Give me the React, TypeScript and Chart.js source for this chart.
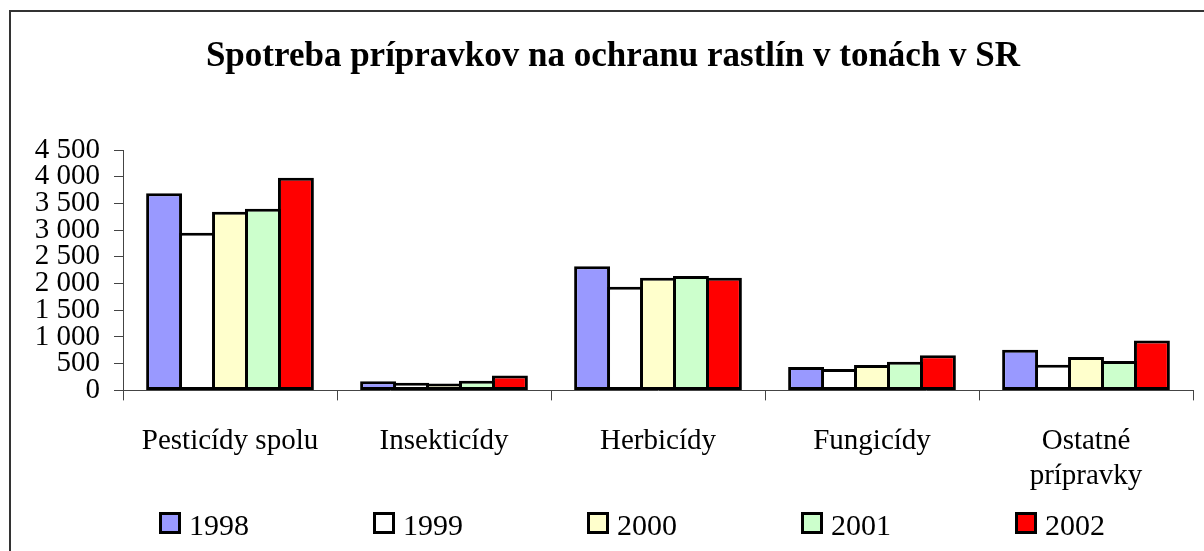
import React, { useEffect, useRef } from 'react';
import { Chart, registerables } from 'chart.js';

Chart.register(...registerables);

const categories: (string | string[])[] = [
  'Pesticídy spolu',
  'Insekticídy',
  'Herbicídy',
  'Fungicídy',
  ['Ostatné', 'prípravky'],
];

const years = ['1998', '1999', '2000', '2001', '2002'];

const values1998 = [3690, 170, 2325, 440, 760];
const values1999 = [2950, 145, 1940, 400, 480];
const values2000 = [3345, 130, 2110, 475, 625];
const values2001 = [3400, 180, 2140, 535, 550];
const values2002 = [3980, 280, 2110, 660, 935];

const yTickLabels = ['0', '500', '1 000', '1 500', '2 000', '2 500', '3 000', '3 500', '4 000', '4 500'];

const seriesColors = ['#9999FF', '#FFFFFF', '#FFFFCC', '#CCFFCC', '#FF0000'];

const titleText = 'Spotreba prípravkov na ochranu rastlín v tonách v SR';

const SERIF = '"Liberation Serif", "Times New Roman", serif';

const framePlugin = {
  id: 'frame',
  afterDraw(chart: any) {
    const ctx = chart.ctx;
    ctx.save();
    ctx.strokeStyle = '#333';
    ctx.lineWidth = 2;
    ctx.beginPath();
    ctx.moveTo(10, chart.height);
    ctx.lineTo(10, 11);
    ctx.lineTo(chart.width, 11);
    ctx.stroke();
    // title
    ctx.fillStyle = '#000';
    ctx.font = 'bold 35px ' + SERIF;
    ctx.textAlign = 'center';
    ctx.textBaseline = 'middle';
    ctx.fillText(titleText, 613, 57);
    ctx.restore();
  },
};

const legendPlugin = {
  id: 'customLegend',
  afterDraw(chart: any) {
    const ctx = chart.ctx;
    const xs = chart.scales.x;
    const step = (xs.right - xs.left) / categories.length;
    ctx.save();
    chart.data.datasets.forEach((ds: any, i: number) => {
      const bx = Math.round(xs.left + step * i + 36);
      const by = 512;
      const size = 22;
      ctx.fillStyle = ds.backgroundColor;
      ctx.fillRect(bx, by, size, size);
      ctx.strokeStyle = '#000';
      ctx.lineWidth = 3;
      ctx.strokeRect(bx + 1.5, by + 1.5, size - 3, size - 3);
      ctx.fillStyle = '#000';
      ctx.font = '30px ' + SERIF;
      ctx.textBaseline = 'alphabetic';
      ctx.textAlign = 'left';
      ctx.fillText(ds.label, bx + 30, 535);
    });
    ctx.restore();
  },
};

export default function App() {
  const canvasRef = useRef<HTMLCanvasElement | null>(null);

  useEffect(() => {
    const canvas = canvasRef.current;
    if (!canvas) return;
    const seriesValues = [values1998, values1999, values2000, values2001, values2002];
    const chart = new Chart(canvas, {
      type: 'bar',
      data: {
        labels: categories,
        datasets: years.map((y, i) => ({
          label: y,
          data: seriesValues[i],
          backgroundColor: seriesColors[i],
          borderColor: '#000000',
          borderWidth: 3,
          borderSkipped: false,
          categoryPercentage: 0.77,
          barPercentage: 1.09,
        })),
      },
      options: {
        responsive: false,
        animation: false,
        layout: { padding: { left: 0, right: 11, top: 150, bottom: 33 } },
        plugins: {
          legend: { display: false },
          tooltip: { enabled: false },
          title: { display: false },
        },
        scales: {
          x: {
            grid: {
              offset: true,
              drawOnChartArea: false,
              drawTicks: true,
              tickLength: 10,
              color: '#444',
            },
            border: { display: true, color: '#444', width: 1 },
            ticks: {
              color: '#000',
              font: { family: SERIF, size: 29, lineHeight: 1.2 },
              padding: 24,
              maxRotation: 0,
              autoSkip: false,
            },
          },
          y: {
            min: 0,
            max: 4500,
            afterFit(scale: any) {
              scale.width = 123;
            },
            grid: {
              drawOnChartArea: false,
              drawTicks: true,
              tickLength: 9,
              color: '#444',
            },
            border: { display: true, color: '#444', width: 1 },
            ticks: {
              stepSize: 500,
              autoSkip: false,
              color: '#000',
              padding: 14,
              font: { family: SERIF, size: 29, lineHeight: 1.2 },
              callback: (_v: any, idx: number) => yTickLabels[idx],
            },
          },
        },
      },
      plugins: [framePlugin, legendPlugin],
    });
    return () => chart.destroy();
  }, []);

  return (
    <div style={{ position: 'fixed', left: 0, top: 0, width: 1204, height: 551, background: '#fff', overflow: 'hidden' }}>
      <canvas ref={canvasRef} width={1204} height={551} style={{ display: 'block' }} />
    </div>
  );
}
